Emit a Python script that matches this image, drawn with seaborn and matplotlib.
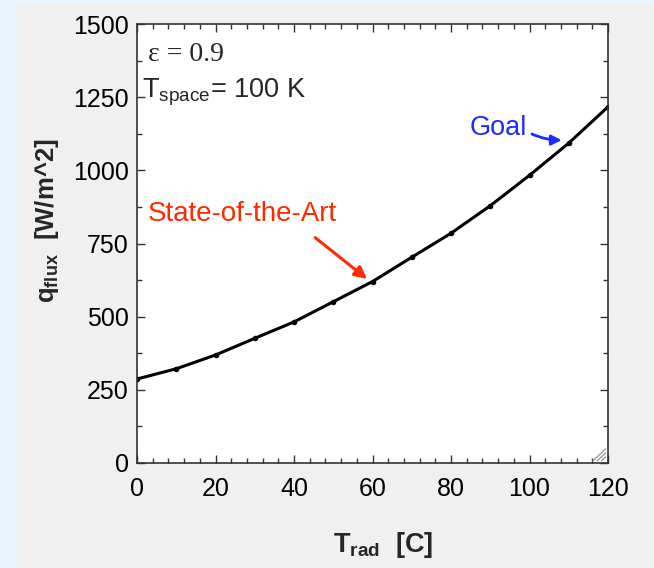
import numpy as np
import pandas as pd
import matplotlib
matplotlib.use('Agg')
import matplotlib.pyplot as plt
import seaborn as sns
from matplotlib.patches import Rectangle
from matplotlib.ticker import MultipleLocator

# values
t_rad = [0, 10, 20, 30, 40, 50, 60, 70, 80, 90, 100, 110, 120]
q_flux = [287, 322, 369, 426, 482, 551, 620, 703, 785, 879, 983, 1093, 1217]
x_ticks = [0, 20, 40, 60, 80, 100, 120]
y_ticks = [0, 250, 500, 750, 1000, 1250, 1500]

df = pd.DataFrame({'t_rad': t_rad, 'q_flux': q_flux})

sns.set_style('ticks')
plt.rcParams['font.family'] = ['Liberation Sans', 'DejaVu Sans']
plt.rcParams['mathtext.fontset'] = 'custom'
plt.rcParams['mathtext.rm'] = 'Liberation Sans'
plt.rcParams['mathtext.bf'] = 'Liberation Sans:bold'

fig = plt.figure(figsize=(6.54, 5.68), dpi=100)
fig.patch.set_facecolor('#e9f4fd')
# grey panel behind the plot
bg = fig.add_axes([17 / 654, 0, 1 - 17 / 654, 1 - 4 / 568], zorder=-5)
bg.set_axis_off()
bg.add_patch(Rectangle((0, 0), 1, 1, transform=bg.transAxes, facecolor='#f0f0f0',
                       edgecolor='none'))

ax = fig.add_axes([137 / 654, (568 - 463) / 568, 471 / 654, 439 / 568])
ax.set_facecolor('white')

sns.lineplot(data=df, x='t_rad', y='q_flux', ax=ax, color='black', lw=2.2,
             marker='o', markersize=4, markeredgewidth=0)

ax.set_xlim(0, 120)
ax.set_ylim(0, 1500)
ax.set_xticks(x_ticks)
ax.set_yticks(y_ticks)
ax.xaxis.set_minor_locator(MultipleLocator(4))
ax.yaxis.set_minor_locator(MultipleLocator(125))
ax.tick_params(which='both', direction='in', top=True, right=True, colors='#333333',
               labelcolor='black', labelsize=18)
ax.tick_params(which='major', length=6, width=1)
ax.tick_params(which='minor', length=3.5, width=1)
ax.tick_params(axis='x', pad=10)
ax.tick_params(axis='y', pad=6)
for s in ax.spines.values():
    s.set_color('#333333')
    s.set_linewidth(1.2)

ax.set_xlabel(r'$\mathbf{T}_{\mathbf{rad}}$  [C]', fontsize=19.5, fontweight='bold')
ax.set_ylabel(r'$\mathbf{q}_{\mathbf{flux}}$  [W/m^2]', fontsize=18.5, fontweight='bold')
ax.xaxis.label.set_va('center')
ax.xaxis.set_label_coords(0.523, -0.187)
ax.yaxis.label.set_va('center')
ax.yaxis.set_label_coords(-0.192, 0.551)

ax.text(2.8, 1397, r'ε = 0.9', fontsize=20, family='Liberation Serif', va='center')
ax.text(1.2, 1267, r'T$_{\mathrm{space}}$= 100 K', fontsize=19.5, va='center')

ax.annotate('', xy=(58.6, 629), xytext=(45.4, 770),
            arrowprops=dict(arrowstyle='-|>', color='#ff2a00', lw=2.2, mutation_scale=18,
                            shrinkA=0, shrinkB=0))
ax.text(2.8, 852, 'State-of-the-Art', color='#ff2a00', fontsize=20, va='center')

ax.annotate('', xy=(108.2, 1103), xytext=(100.6, 1124),
            arrowprops=dict(arrowstyle='-|>', color='#1a2cff', lw=2, mutation_scale=15,
                            shrinkA=0, shrinkB=0, connectionstyle='arc3,rad=0.1'))
ax.text(84.8, 1144, 'Goal', color='#1a2cff', fontsize=19.5, va='center')

# resize grip in the lower right corner
for k in range(3):
    d = 0.009 + 0.009 * k
    ax.plot([1 - 0.005 - d, 1 - 0.005], [0.005, 0.005 + d * 471 / 439 * 0.93],
            transform=ax.transAxes, color='#9a9a9a', lw=1, clip_on=False)

plt.savefig('out.png', dpi=100, facecolor=fig.get_facecolor())
